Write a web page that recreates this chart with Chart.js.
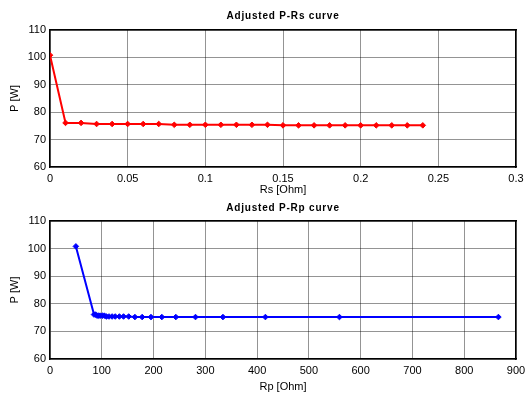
<!DOCTYPE html>
<html>
<head>
<meta charset="utf-8">
<script src="https://cdn.jsdelivr.net/npm/chart.js@4/dist/chart.umd.min.js"></script>
<style>
  html, body { margin: 0; padding: 0; background: #fff; }
  .box { position: absolute; left: 0; width: 527px; height: 197px; }
  #b1 { top: 0; }
  #b2 { top: 197px; }
</style>
</head>
<body>
<div class="box" id="b1"><canvas id="c1"></canvas></div>
<div class="box" id="b2"><canvas id="c2"></canvas></div>
<script>
// ---- data ----
const rsValues = [0, 0.01, 0.02, 0.03, 0.04, 0.05, 0.06, 0.07, 0.08, 0.09, 0.10, 0.11, 0.12,
                  0.13, 0.14, 0.15, 0.16, 0.17, 0.18, 0.19, 0.20, 0.21, 0.22, 0.23, 0.24];
const pVsRs = [100.8, 76.1, 76.1, 75.7, 75.7, 75.7, 75.7, 75.7, 75.4, 75.4, 75.4, 75.4, 75.4,
               75.4, 75.4, 75.2, 75.2, 75.2, 75.2, 75.2, 75.2, 75.2, 75.2, 75.2, 75.2];
const rpValues = [50, 85, 88, 91, 94, 97, 101, 105, 109, 114, 120, 126, 134,
                  142, 152, 164, 178, 195, 216, 243, 281, 334, 416, 559, 866];
const pVsRp = [100.8, 76.1, 76.1, 75.7, 75.7, 75.7, 75.7, 75.7, 75.4, 75.4, 75.4, 75.4, 75.4,
               75.4, 75.4, 75.2, 75.2, 75.2, 75.2, 75.2, 75.2, 75.2, 75.2, 75.2, 75.2];
const pTicks = { min: 60, max: 110, step: 10 };
const rsTicks = { min: 0, max: 0.3, step: 0.05 };
const rpTicks = { min: 0, max: 900, step: 100 };

const FONT = "'Liberation Sans', Arial, sans-serif";

// draw the title with MATLAB-like letter spacing, centred over the plot area
const spacedTitle = {
  id: 'spacedTitle',
  beforeDraw(chart) {
    const tb = chart.titleBlock;
    if (tb && !tb._wrapped) {
      const orig = tb.draw.bind(tb);
      tb.draw = function (a) {
        const ctx = chart.ctx;
        const prev = ctx.letterSpacing;
        const l = tb.left, r = tb.right;
        tb.left = chart.chartArea.left;
        tb.right = chart.chartArea.right;
        ctx.letterSpacing = '0.8px';
        orig(a);
        ctx.letterSpacing = prev || '0px';
        tb.left = l; tb.right = r;
      };
      tb._wrapped = true;
    }
  }
};

function fmt(v) { return String(Number(Number(v).toFixed(6))); }

function makeChart(id, xs, ys, color, xt, xTitle, title, titlePad, xHeight) {
  const pts = xs.map((x, i) => ({ x: x, y: ys[i] }));
  return new Chart(document.getElementById(id), {
    type: 'line',
    data: {
      datasets: [{
        data: pts,
        borderColor: color,
        backgroundColor: color,
        borderWidth: 2,
        pointStyle: 'rectRot',
        pointRadius: 2.8,
        pointBorderWidth: 1,
        pointBorderColor: color,
        tension: 0,
        fill: false
      }]
    },
    options: {
      responsive: true,
      maintainAspectRatio: false,
      animation: false,
      layout: { padding: { left: 0, right: 11, top: 0, bottom: 0 } },
      plugins: {
        legend: { display: false },
        tooltip: { enabled: false },
        title: {
          display: true,
          text: title,
          color: '#000',
          font: { family: FONT, size: 10, weight: 'bold', lineHeight: 1.2 },
          padding: titlePad
        }
      },
      scales: {
        x: {
          type: 'linear',
          min: xt.min, max: xt.max,
          ticks: { stepSize: xt.step, color: '#000', font: { family: FONT, size: 11 }, padding: 5, maxRotation: 0, autoSkip: false, callback: fmt },
          grid: { color: 'rgba(0,0,0,0.42)', lineWidth: 1, drawTicks: false },
          border: { color: '#000', width: 1.5 },
          title: { display: true, text: xTitle, color: '#000', font: { family: FONT, size: 11, lineHeight: 1.2 }, padding: { top: 0, bottom: 0 } },
          afterFit(s) { s.height = xHeight; s.paddingRight = 0; s.paddingLeft = 0; }
        },
        xTop: {
          type: 'linear', position: 'top', min: xt.min, max: xt.max,
          ticks: { display: false },
          grid: { display: false },
          border: { color: '#000', width: 1.5 },
          afterFit(s) { s.height = 0; s.paddingRight = 0; s.paddingLeft = 0; }
        },
        y: {
          type: 'linear',
          min: pTicks.min, max: pTicks.max,
          ticks: { stepSize: pTicks.step, color: '#000', font: { family: FONT, size: 11 }, padding: 4 },
          grid: { color: 'rgba(0,0,0,0.42)', lineWidth: 1, drawTicks: false },
          border: { color: '#000', width: 1.5 },
          title: { display: true, text: 'P [W]', color: '#000', font: { family: FONT, size: 11, lineHeight: 1.2 }, padding: { top: 8, bottom: 0 } },
          afterFit(s) { s.width = 50; s.paddingTop = 0; s.paddingBottom = 0; }
        },
        yRight: {
          type: 'linear', position: 'right', min: pTicks.min, max: pTicks.max,
          ticks: { display: false },
          grid: { display: false },
          border: { color: '#000', width: 1.5 },
          afterFit(s) { s.width = 0; s.paddingTop = 0; s.paddingBottom = 0; }
        }
      }
    },
    plugins: [spacedTitle]
  });
}

makeChart('c1', rsValues, pVsRs, '#ff0000', rsTicks, 'Rs [Ohm]', 'Adjusted P-Rs curve', { top: 10, bottom: 8 }, 30);
makeChart('c2', rpValues, pVsRp, '#0000ff', rpTicks, 'Rp [Ohm]', 'Adjusted P-Rp curve', { top: 5, bottom: 7 }, 35);
</script>
</body>
</html>
